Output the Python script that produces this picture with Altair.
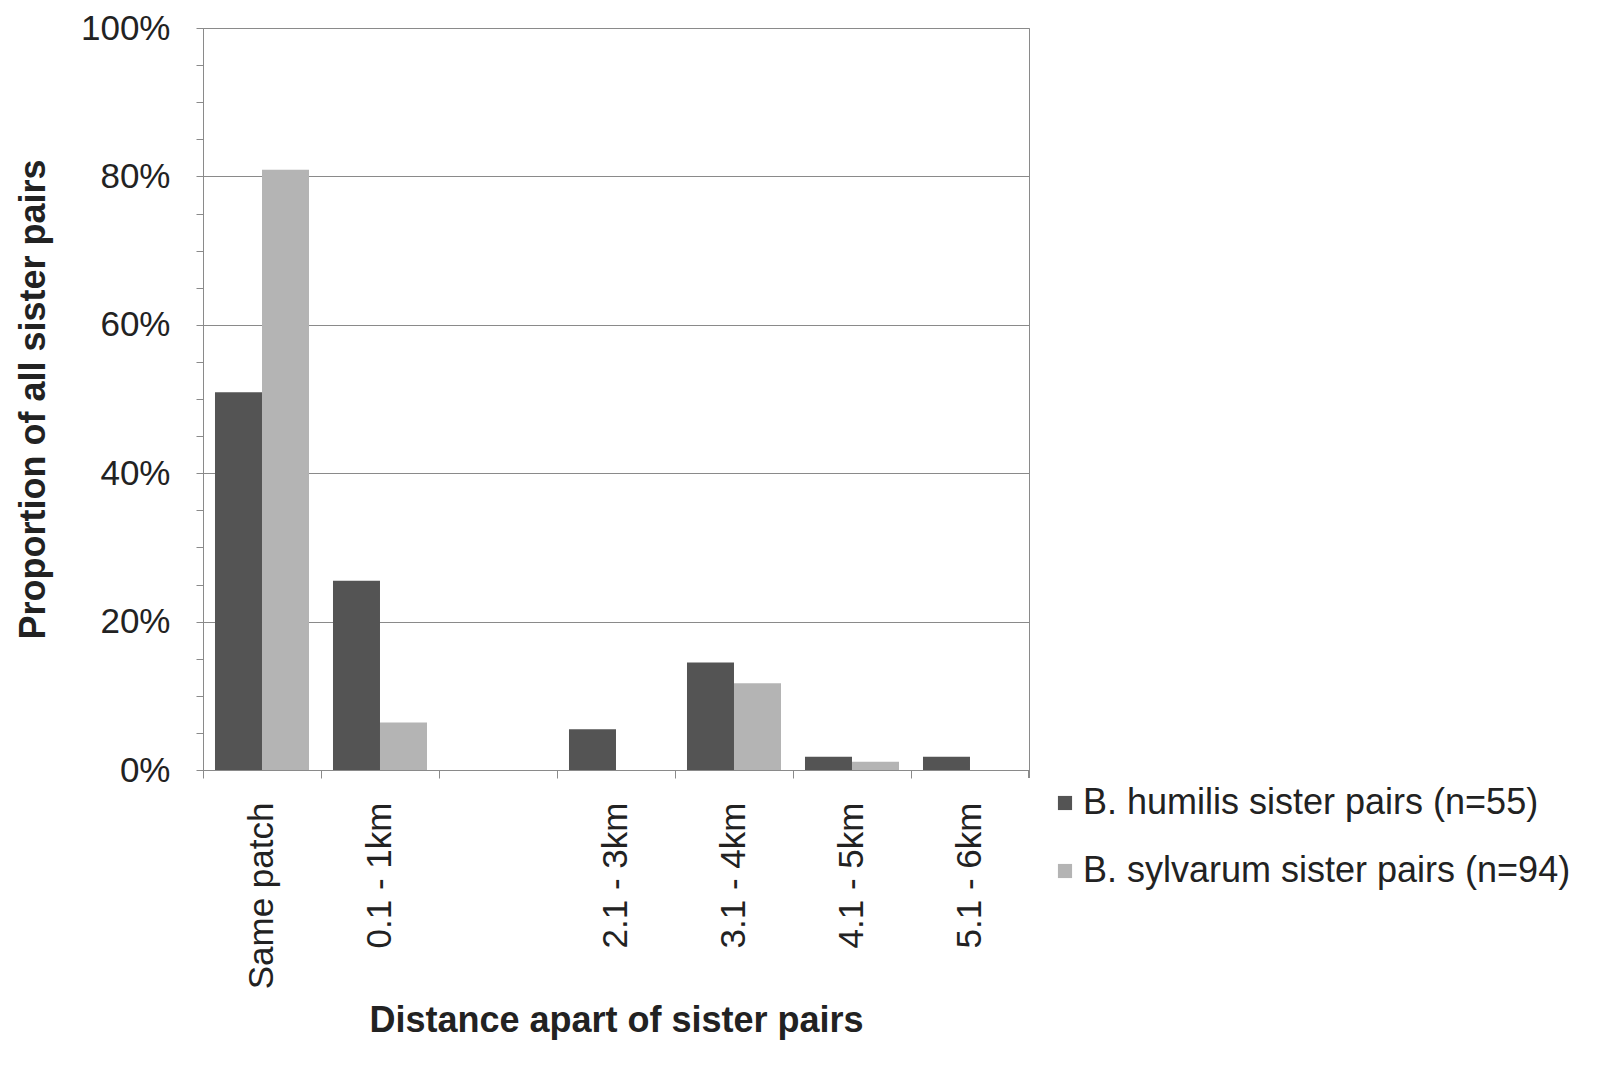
import altair as alt
import pandas as pd

categories = ["Same patch", "0.1 - 1km", " ", "2.1 - 3km", "3.1 - 4km", "4.1 - 5km", "5.1 - 6km"]
series = ["B. humilis sister pairs (n=55)", "B. sylvarum sister pairs (n=94)"]
humilis = [50.9, 25.5, 0.0, 5.5, 14.5, 1.8, 1.8]
sylvarum = [80.9, 6.4, 0.0, 0.0, 11.7, 1.1, 0.0]
y_ticks = list(range(0, 101, 5))
colors = ["#545454", "#b4b4b4"]

rows = []
for c, h, s in zip(categories, humilis, sylvarum):
    rows.append({"cat": c, "series": series[0], "value": h})
    rows.append({"cat": c, "series": series[1], "value": s})
df = pd.DataFrame(rows)

FONT = "Liberation Sans"
GREY = "#8a8a8a"
TXT = "#222222"

bars = alt.Chart(df).mark_bar(size=47).encode(
    x=alt.X(
        "cat:N",
        sort=categories,
        scale=alt.Scale(paddingInner=0, paddingOuter=0),
        axis=alt.Axis(
            title="Distance apart of sister pairs",
            labelAngle=-90,
            bandPosition=0,
            tickSize=8,
            tickColor=GREY,
            domainColor=GREY,
            labelFontSize=35,
            labelColor=TXT,
            labelFont=FONT,
            labelPadding=24,
            labelLimit=400,
            titleFont=FONT,
            titleFontSize=36,
            titleFontWeight="bold",
            titleColor=TXT,
            titlePadding=33,
            grid=False,
        ),
    ),
    xOffset=alt.XOffset("series:N", sort=series, scale=alt.Scale(paddingOuter=0.255, paddingInner=0)),
    y=alt.Y(
        "value:Q",
        scale=alt.Scale(domain=[0, 100], nice=False),
        axis=alt.Axis(
            title="Proportion of all sister pairs",
            values=y_ticks,
            labelExpr="datum.value % 20 === 0 ? datum.value + '%' : ''",
            grid=True,
            gridColor=GREY,
            gridOpacity={"condition": {"test": "datum.value % 20 === 0", "value": 1}, "value": 0},
            tickSize=7,
            tickColor=GREY,
            domainColor=GREY,
            labelFontSize=35,
            labelColor=TXT,
            labelFont=FONT,
            labelPadding=26,
            titleFont=FONT,
            titleFontSize=36,
            titleFontWeight="bold",
            titleColor=TXT,
            titlePadding=28,
        ),
    ),
    color=alt.Color(
        "series:N",
        sort=series,
        scale=alt.Scale(domain=series, range=colors),
        legend=alt.Legend(
            orient="none",
            legendX=844,
            legendY=757,
            padding=0,
            title=None,
            symbolType="square",
            symbolSize=200,
            symbolStrokeWidth=0,
            labelFontSize=36,
            labelFont=FONT,
            labelColor=TXT,
            rowPadding=32,
            labelOffset=0,
            labelLimit=600,
        ),
    ),
)

end_tick = alt.Chart(df).mark_rule(color=GREY).encode(
    x=alt.value(826), y=alt.value(742), y2=alt.value(750)
)

chart = (
    alt.layer(bars, end_tick)
    .properties(
        width=826,
        height=742,
        autosize="none",
        padding={"left": 195, "top": 20, "right": 540, "bottom": 280},
        background="white",
    )
    .configure_view(stroke=GREY)
)

chart.save("out.html", embed_options={"renderer": "svg", "actions": False})
